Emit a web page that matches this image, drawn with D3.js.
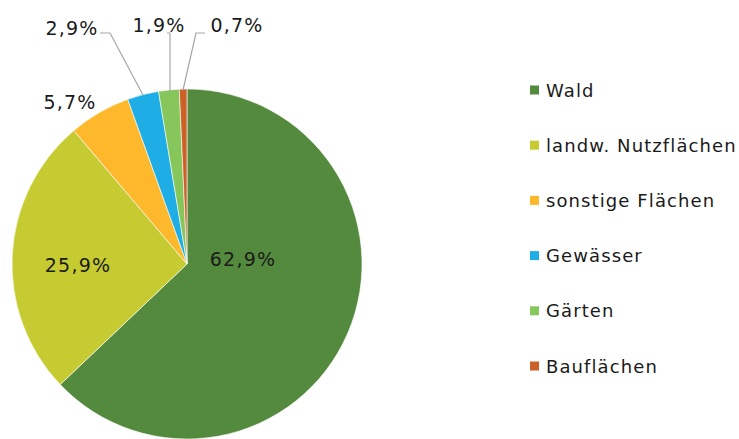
<!DOCTYPE html>
<html><head><meta charset="utf-8">
<script src="https://cdn.jsdelivr.net/npm/d3@7"></script>
<style>body{margin:0;background:#fff}svg{display:block}</style>
</head><body>
<svg id="c" width="739" height="439"></svg>
<script>
const categories = ["Wald","landw. Nutzflächen","sonstige Flächen","Gewässer","Gärten","Bauflächen"];
const values = [62.9,25.9,5.7,2.9,1.9,0.7];
const labels = ["62,9%","25,9%","5,7%","2,9%","1,9%","0,7%"];
const colors = ["#548A3D","#C6CB31","#FDB92B","#1EAEE5","#87C65B","#CC6128"];

const svg = d3.select("#c");
const cx = 187, cy = 264, r = 175;
const g = svg.append("g").attr("transform", `translate(${cx},${cy})`);
const pie = d3.pie().sort(null).value(d => d)(values);
const arc = d3.arc().innerRadius(0).outerRadius(r);
g.selectAll("path").data(pie).join("path")
  .attr("d", arc).attr("fill", (d,i) => colors[i])
  .attr("stroke", "#fff").attr("stroke-width", 0.6);

const font = "'DejaVu Sans', Verdana, sans-serif";
// inside labels
const inside = [[56, -5], [-109, 1]];
[0,1].forEach(i => {
  g.append("text").attr("x", inside[i][0]).attr("y", inside[i][1])
    .attr("text-anchor","middle").attr("dominant-baseline","central")
    .attr("font-family", font).attr("font-size", 19).attr("letter-spacing", 1.2).attr("fill","#1a1a1a")
    .text(labels[i]);
});
// outside labels (absolute positions)
const outPos = [null,null,[70,102],[72,28],[159,25],[237,25]];
const leaders = [null,null,null,
  [[100,33],[110,33],[143,95]],
  [[167,33],[170,33],[170,92]],
  [[205,33],[196,33],[183,90]]];
[2,3,4,5].forEach(i => {
  svg.append("text").attr("x", outPos[i][0]).attr("y", outPos[i][1])
    .attr("text-anchor","middle").attr("dominant-baseline","central")
    .attr("font-family", font).attr("font-size", 19).attr("letter-spacing", 1.2).attr("fill","#1a1a1a")
    .text(labels[i]);
  if (leaders[i]) svg.append("path").attr("d", d3.line()(leaders[i]))
    .attr("fill","none").attr("stroke","#a6a6a6").attr("stroke-width",1.2);
});

// legend
const ly = d3.scalePoint().domain(categories).range([90, 366]);
const lg = svg.append("g");
categories.forEach((c,i) => {
  lg.append("rect").attr("x", 530).attr("y", ly(c)-4.5).attr("width", 9).attr("height", 9).attr("fill", colors[i]);
  lg.append("text").attr("x", 546).attr("y", ly(c)).attr("dominant-baseline","central")
    .attr("font-family", font).attr("font-size", 18).attr("letter-spacing", 1.1).attr("fill","#1a1a1a").text(c);
});
</script>
</body></html>
